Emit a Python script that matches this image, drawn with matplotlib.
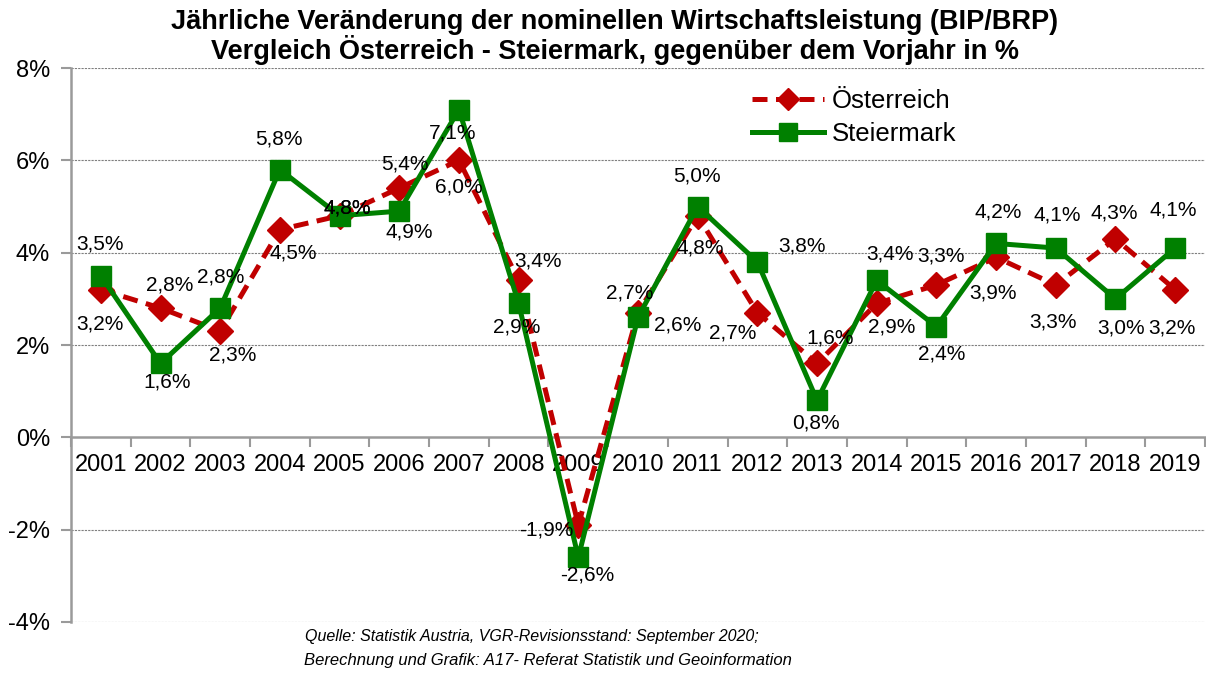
import numpy as np
import matplotlib
matplotlib.use("Agg")
import matplotlib.pyplot as plt

plt.rcParams['font.family'] = ['Liberation Sans', 'DejaVu Sans']

years = [str(y) for y in range(2001, 2020)]
oesterreich = [3.2, 2.8, 2.3, 4.5, 4.8, 5.4, 6.0, 3.4, -1.9, 2.7,
               4.8, 2.7, 1.6, 2.9, 3.3, 3.9, 3.3, 4.3, 3.2]
steiermark = [3.5, 1.6, 2.8, 5.8, 4.8, 4.9, 7.1, 2.9, -2.6, 2.6,
              5.0, 3.8, 0.8, 3.4, 2.4, 4.2, 4.1, 3.0, 4.1]

# label offsets in pixels (dx, dy)
off_oe = [(-1, -34), (9, 23), (12, -24), (13, -23), (8, 8), (6, 24), (0, -27),
          (19, 19), (-32, -5), (-8, 20), (3, -32), (-25, -20), (13, 25),
          (15, -24), (5, 29), (-3, -36), (-3, -37), (-1, 26), (-3, -38)]
off_st = [(-1, 32), (7, -19), (0, 31), (-1, 31), (8, 8), (10, -21), (-6, -23),
          (-2, -24), (9, -18), (40, -8), (-1, 31), (45, 16), (-1, -23),
          (13, 26), (5, -27), (2, 31), (1, 33), (6, -29), (-2, 38)]

red = "#C00000"
green = "#008000"

fig = plt.figure(figsize=(12.06, 6.73), dpi=100)
ax = fig.add_axes([71/1206, 1-622/673, 1134/1206, (622-68)/673])
x = np.arange(len(years))

ax.plot(x, oesterreich, color=red, lw=3.6, dashes=(3, 1.7), marker='D', ms=13,
        mec=red, mfc=red, label="Österreich", zorder=3)
ax.plot(x, steiermark, color=green, lw=3.6, marker='s', ms=14,
        mec=green, mfc=green, label="Steiermark", zorder=4)

def fmt(v):
    return f"{v:.1f}".replace('.', ',') + '%'

for i in range(len(years)):
    ax.annotate(fmt(oesterreich[i]), (x[i], oesterreich[i]), xytext=off_oe[i],
                textcoords='offset pixels', ha='center', va='center',
                fontsize=15, zorder=6)
    ax.annotate(fmt(steiermark[i]), (x[i], steiermark[i]), xytext=off_st[i],
                textcoords='offset pixels', ha='center', va='center',
                fontsize=15, zorder=6)

ax.set_xlim(-0.5, len(years) - 0.5)
ax.set_ylim(-4, 8)
ax.set_yticks(np.arange(-4, 9, 2))
ax.set_yticklabels([f"{t}%" for t in range(-4, 9, 2)], fontsize=17)
for t in [-4, -2, 2, 4, 6, 8]:
    ax.axhline(t, color="#7f7f7f", lw=0.8, ls=(0, (2, 1)), zorder=1)

ax.spines['top'].set_visible(False)
ax.spines['right'].set_visible(False)
ax.spines['bottom'].set_position(('data', 0))
ax.spines['bottom'].set_color("#9a9a9a")
ax.spines['bottom'].set_linewidth(1.8)
ax.spines['left'].set_color("#9a9a9a")
ax.spines['left'].set_linewidth(1.8)
ax.tick_params(axis='y', colors="#9a9a9a", length=7, width=1.5, labelcolor='black', pad=8)

ax.set_xticks(x)
ax.set_xticklabels(years, fontsize=17)
ax.tick_params(axis='x', which='major', length=0, pad=12)
ax.set_xticks(np.arange(-0.5, len(years), 1), minor=True)
ax.tick_params(axis='x', which='minor', length=7, width=1.5, colors="#9a9a9a")
ax.set_facecolor('none')

leg = ax.legend(loc='upper left', bbox_to_anchor=(752/1206, 1-89/673),
                bbox_transform=fig.transFigure, frameon=False, fontsize=18.5,
                handlelength=2.8, handletextpad=0.3, labelspacing=0.36,
                borderaxespad=0, borderpad=0, markerscale=0.9)

fig.text(615/1206, 1-22/673, "Jährliche Veränderung der nominellen Wirtschaftsleistung (BIP/BRP)",
         ha='center', va='center', fontsize=19.5, fontweight='bold')
fig.text(615/1206, 1-50/673, "Vergleich Österreich - Steiermark, gegenüber dem Vorjahr in %",
         ha='center', va='center', fontsize=19.5, fontweight='bold')
fig.text(532/1206, 1-636/673, "Quelle: Statistik Austria, VGR-Revisionsstand: September 2020;",
         ha='center', va='center', fontsize=11.5, style='italic')
fig.text(548/1206, 1-660/673, "Berechnung und Grafik: A17- Referat Statistik und Geoinformation",
         ha='center', va='center', fontsize=12, style='italic')

fig.savefig("out.png", dpi=100)
